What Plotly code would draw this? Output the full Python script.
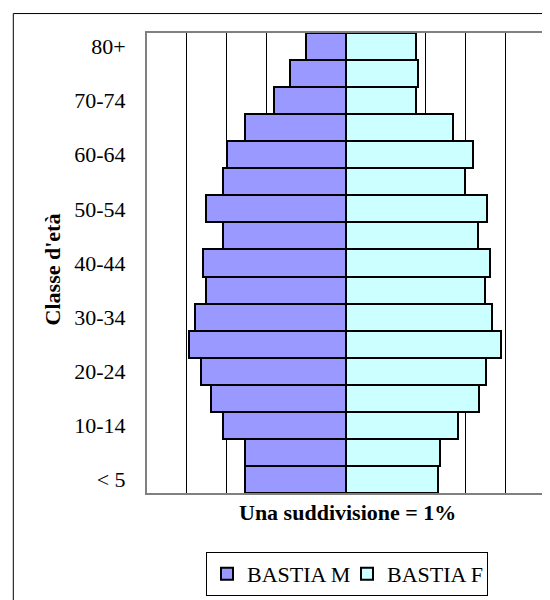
import plotly.graph_objects as go

categories = ["< 5", "5-9", "10-14", "15-19", "20-24", "25-29", "30-34", "35-39",
              "40-44", "45-49", "50-54", "55-59", "60-64", "65-69", "70-74", "75-79", "80+"]
males = [2.54, 2.54, 3.10, 3.40, 3.65, 3.95, 3.80, 3.51, 3.60, 3.10, 3.51, 3.10, 3.00, 2.55, 1.81, 1.40, 1.01]
females = [2.32, 2.36, 2.81, 3.35, 3.52, 3.90, 3.66, 3.50, 3.61, 3.31, 3.55, 3.00, 3.20, 2.70, 1.75, 1.82, 1.75]
shown_labels = categories[::2]

FONT = "Liberation Serif, Times New Roman, serif"

fig = go.Figure()
fig.add_trace(go.Bar(
    y=categories, x=[-v for v in males], orientation="h", name="BASTIA M",
    marker=dict(color="#9999FF", line=dict(color="black", width=2)),
))
fig.add_trace(go.Bar(
    y=categories, x=females, orientation="h", name="BASTIA F",
    marker=dict(color="#CCFFFF", line=dict(color="black", width=2)),
))

L, R, T, B = 139, 13, 25, 109
W, H = 550, 600
pw, ph = W - L - R, H - T - B

def px(xp):
    return (xp - L) / pw

def py(yp):
    return (H - B - yp) / ph

fig.update_layout(
    width=W, height=H,
    margin=dict(l=L, r=R, t=T, b=B),
    barmode="relative", bargap=0,
    plot_bgcolor="white", paper_bgcolor="white",
    font=dict(family=FONT, size=22, color="black"),
    xaxis=dict(range=[-5, 5], dtick=1, showgrid=True, gridcolor="black", gridwidth=1,
               showticklabels=False, zeroline=False, showline=True, linecolor="#808080",
               linewidth=2, mirror=True, ticks=""),
    yaxis=dict(type="category", categoryorder="array", categoryarray=categories,
               range=[-0.5, len(categories) - 0.5],
               tickvals=shown_labels, ticktext=shown_labels, ticks="",
               ticklabelstandoff=15, showgrid=False, zeroline=False,
               showline=True, linecolor="#808080", linewidth=2, mirror=True,
               tickfont=dict(family=FONT, size=22)),
    legend=dict(orientation="h", x=px(339), xanchor="center", y=py(573), yanchor="middle",
                bordercolor="black", borderwidth=1, font=dict(family=FONT, size=22),
                itemwidth=30, entrywidth=95, entrywidthmode="pixels",
                traceorder="normal", bgcolor="white"),
    showlegend=True,
    annotations=[
        dict(text="<b>Una suddivisione = 1%</b>", xref="paper", yref="paper",
             x=px(339), y=py(511), xanchor="center", yanchor="middle", showarrow=False,
             font=dict(family=FONT, size=22)),
        dict(text="<b>Classe d'età</b>", xref="paper", yref="paper", textangle=-90,
             x=px(44.5), y=py(265), xanchor="center", yanchor="middle", showarrow=False,
             font=dict(family=FONT, size=22)),
    ],
    shapes=[
        dict(type="rect", xref="paper", yref="paper", x0=px(5.3), x1=px(565), y0=py(615), y1=py(5.3),
             line=dict(color="black", width=1), layer="below"),
    ],
)

fig.write_html("out.html")
